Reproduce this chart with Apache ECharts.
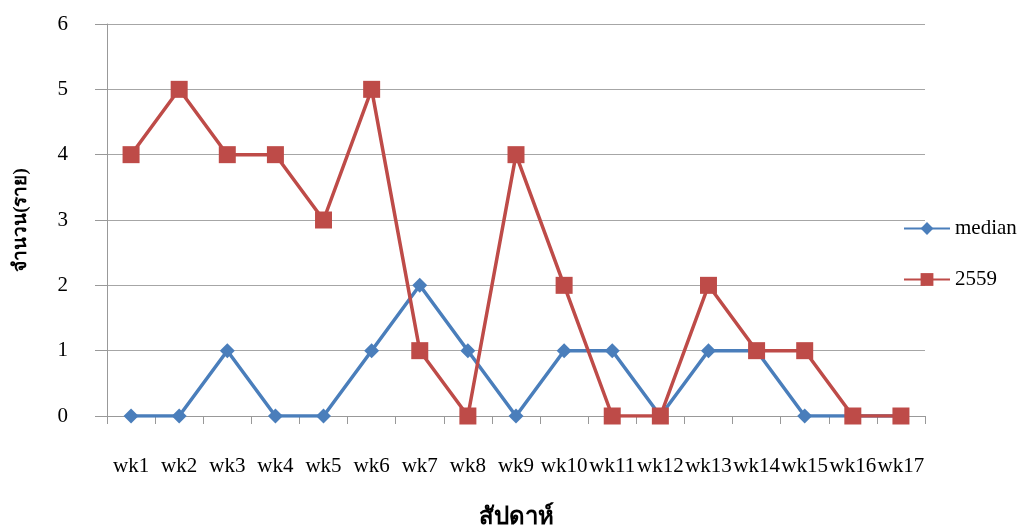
<!DOCTYPE html>
<html>
<head>
<meta charset="utf-8">
<script src="https://cdn.jsdelivr.net/npm/echarts@6/dist/echarts.min.js"></script>
<style>html,body{margin:0;padding:0;background:#fff}#c{width:1023px;height:525px}</style>
</head>
<body>
<div id="c"></div>
<script>
const categories = ['wk1','wk2','wk3','wk4','wk5','wk6','wk7','wk8','wk9','wk10','wk11','wk12','wk13','wk14','wk15','wk16','wk17'];
const medianValues = [0,0,1,0,0,1,2,1,0,1,1,0,1,1,0,0,0];
const y2559Values = [4,5,4,4,3,5,1,0,4,2,0,0,2,1,1,0,0];
const yTicks = [0,1,2,3,4,5,6];
const xTitle = 'สัปดาห์';
const yTitle = 'จำนวน(ราย)';

const serif = '"Liberation Serif","DejaVu Serif",serif';
const chart = echarts.init(document.getElementById('c'));
chart.setOption({
  backgroundColor: '#fff',
  animation: false,
  grid: {left: 107, right: 98, top: 24, bottom: 109, containLabel: false, outerBoundsMode: 'none'},
  legend: {
    orient: 'vertical', left: 898, top: 213,
    itemGap: 30, itemWidth: 46, itemHeight: 16,
    textStyle: {fontFamily: serif, fontSize: 21, color: '#000'},
    data: ['median', '2559']
  },
  xAxis: {
    type: 'category', data: categories, boundaryGap: true,
    name: xTitle, nameLocation: 'middle', nameGap: 90,
    nameTextStyle: {fontFamily: serif, fontSize: 24, fontWeight: 'bold', color: '#000'},
    axisLine: {lineStyle: {color: '#999', width: 1}},
    axisTick: {show: true, length: 8, lineStyle: {color: '#999'}},
    axisLabel: {fontFamily: serif, fontSize: 21, color: '#000', margin: 40, interval: 0}
  },
  yAxis: {
    type: 'value', min: yTicks[0], max: yTicks[yTicks.length-1], interval: 1,
    name: yTitle, nameLocation: 'middle', nameGap: 76, nameRotate: 90,
    nameTextStyle: {fontFamily: serif, fontSize: 19, fontWeight: 'bold', color: '#000'},
    axisLine: {show: true, lineStyle: {color: '#999', width: 1}},
    axisTick: {show: true, length: 12, lineStyle: {color: '#999'}},
    axisLabel: {fontFamily: serif, fontSize: 21, color: '#000', margin: 39},
    splitLine: {show: true, lineStyle: {color: '#a6a6a6', width: 1}}
  },
  series: [
    {
      name: 'median', type: 'line', data: medianValues,
      symbol: 'diamond', symbolSize: 15,
      itemStyle: {color: '#4a7ebb'},
      lineStyle: {color: '#4a7ebb', width: 3.5}
    },
    {
      name: '2559', type: 'line', data: y2559Values,
      symbol: 'rect', symbolSize: 17,
      itemStyle: {color: '#be4b48'},
      lineStyle: {color: '#be4b48', width: 3.5}
    }
  ]
});
</script>
</body>
</html>
